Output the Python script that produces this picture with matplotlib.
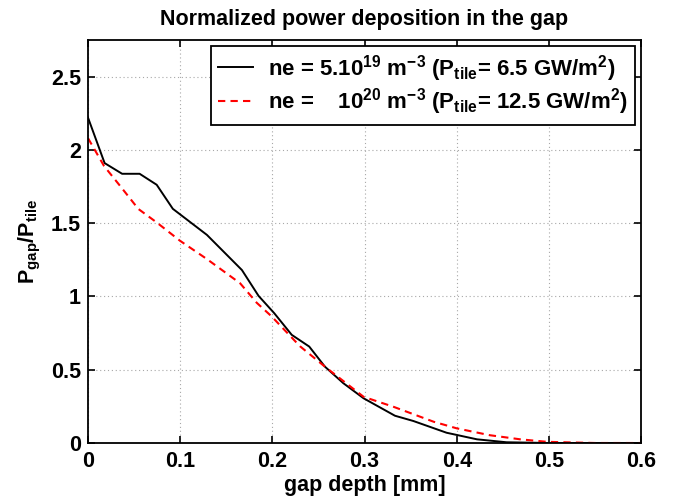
import numpy as np
import matplotlib
matplotlib.use('Agg')
import matplotlib.pyplot as plt

plt.rcParams['font.family'] = 'Liberation Sans'
plt.rcParams['font.weight'] = 'bold'
plt.rcParams['mathtext.fontset'] = 'custom'
plt.rcParams['mathtext.rm'] = 'Liberation Sans:bold'
plt.rcParams['mathtext.it'] = 'Liberation Sans:bold'
plt.rcParams['mathtext.bf'] = 'Liberation Sans:bold'

# ne = 5e19
x_519 = [0.0, 0.018, 0.037, 0.056, 0.0745, 0.092, 0.129, 0.167, 0.185, 0.202,
         0.221, 0.240, 0.257, 0.277, 0.299, 0.333, 0.353, 0.389, 0.422, 0.454,
         0.5, 0.55, 0.6]
y_519 = [2.22, 1.91, 1.837, 1.837, 1.762, 1.598, 1.42, 1.18, 1.004, 0.886,
         0.738, 0.658, 0.521, 0.408, 0.305, 0.186, 0.15, 0.07, 0.025, 0.005,
         0.0, 0.0, 0.0]

# ne = 1e20
x_1e20 = [0.0, 0.0174, 0.0347, 0.0546, 0.0745, 0.0998, 0.129, 0.165, 0.183,
          0.199, 0.230, 0.257, 0.299, 0.331, 0.375, 0.400, 0.436, 0.469,
          0.498, 0.55, 0.6]
y_1e20 = [2.08, 1.89, 1.755, 1.597, 1.505, 1.38, 1.255, 1.09, 0.957, 0.865,
          0.66, 0.521, 0.315, 0.248, 0.145, 0.1, 0.053, 0.025, 0.008,
          0.0, 0.0]

lab1 = r'ne = 5.10$^{19}$ m$^{-3}$ (P$_{tile}$= 6.5 GW/m$^2$)'
lab2 = r'ne =    10$^{20}$ m$^{-3}$ (P$_{tile}$= 12.5 GW/m$^2$)'

fs = 15.5

fig = plt.figure(figsize=(6.75, 5.03), dpi=100)
ax = fig.add_axes([0.1304, 0.1193, 0.8193, 0.8012])

ax.plot(x_519, y_519, 'k-', lw=1.4, label=lab1)
ax.plot(x_1e20, y_1e20, color='r', ls=(0, (3.5, 2.5)), lw=1.5, label=lab2)

ax.set_xlim(0, 0.6)
ax.set_ylim(0, 2.75)
ax.set_xticks(np.arange(0, 0.61, 0.1))
ax.set_xticklabels(['0', '0.1', '0.2', '0.3', '0.4', '0.5', '0.6'])
ax.set_yticks([0, 0.5, 1, 1.5, 2, 2.5])
ax.set_yticklabels(['0', '0.5', '1', '1.5', '2', '2.5'])
ax.tick_params(direction='in', top=True, right=True, labelsize=fs, length=5,
               width=1.2)
ax.tick_params(axis='x', pad=6)
ax.tick_params(axis='y', pad=5)
ax.grid(True, linestyle=(0, (1, 2.5)), color='#a8a8a8', lw=0.8)
for s in ax.spines.values():
    s.set_linewidth(1.3)

ax.set_xlabel('gap depth [mm]', fontsize=fs, fontweight='bold', labelpad=2)
ax.set_ylabel(r'P$_{gap}$/P$_{tile}$', fontsize=fs, fontweight='bold',
              labelpad=6)
ax.set_title('Normalized power deposition in the gap', fontsize=fs,
             fontweight='bold', pad=11)

leg = ax.legend(loc='upper right', fontsize=16, fancybox=False, framealpha=1,
                edgecolor='k', borderaxespad=0.25, handlelength=1.55,
                labelspacing=0.12, borderpad=0.33, handletextpad=0.7)
leg.get_frame().set_linewidth(1.3)

fig.savefig('out.png', dpi=100)
